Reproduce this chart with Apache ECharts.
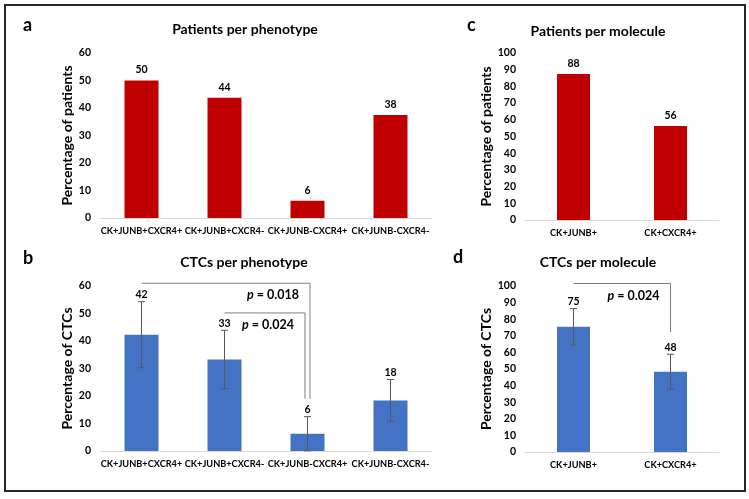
<!DOCTYPE html>
<html><head><meta charset="utf-8">
<script src="https://cdn.jsdelivr.net/npm/echarts@6/dist/echarts.min.js"></script>
<style>html,body{margin:0;padding:0;background:#fff}#c{width:749px;height:499px}</style>
</head><body><div id="c"></div>
<script>
// ---- data ----
const phenotypes = ['CK+JUNB+CXCR4+', 'CK+JUNB+CXCR4-', 'CK+JUNB-CXCR4+', 'CK+JUNB-CXCR4-'];
const molecules = ['CK+JUNB+', 'CK+CXCR4+'];
const patientsPerPhenotype = [50, 43.75, 6.25, 37.5];
const ctcsPerPhenotype = [42.3, 33.3, 6.3, 18.4];
const ctcsPerPhenotypeErr = [12, 10.6, 6.2, 7.6];
const patientsPerMolecule = [87.5, 56.25];
const ctcsPerMolecule = [75.4, 48.4];
const ctcsPerMoleculeErr = [11, 10.5];
const phenotypeAxisMax = 60;
const moleculeAxisMax = 100;
const tickStep = 10;
// significance brackets: from category, to category, bracket level, leg end level, p value
const bracketsPhenotype = [
  {from: 0, to: 2.03, level: 61, end: 19, p: '0.018'},
  {from: 1, to: 1.97, level: 50.2, end: 19, p: '0.024'}
];
const bracketsMolecule = [
  {from: 0, to: 1, level: 101.5, end: 72.3, p: '0.024'}
];

// ---- style ----
const FONT = 'Lato';
const RED = '#C00000';
const BLUE = '#4472C4';

function catAxis(gi, cats) {
  return {
    type: 'category', gridIndex: gi, data: cats,
    axisLine: {lineStyle: {color: '#D9D9D9', width: 1}},
    axisTick: {show: false},
    axisLabel: {fontFamily: FONT, fontWeight: 'bold', fontSize: 9.2, color: '#000', margin: 9, interval: 0}
  };
}
function hiddenValAxis(gi, n) {
  return {type: 'value', gridIndex: gi, min: -0.5, max: n - 0.5, show: false};
}
function valAxis(gi, max, name, gap) {
  return {
    type: 'value', gridIndex: gi, min: 0, max: max, interval: tickStep,
    axisLine: {show: false}, axisTick: {show: false}, splitLine: {show: false},
    axisLabel: {fontFamily: FONT, fontWeight: 'bold', fontSize: 10.5, color: '#000', margin: 9},
    name: name, nameLocation: 'middle', nameGap: gap,
    nameTextStyle: {fontFamily: FONT, fontWeight: 'bold', fontSize: 14, color: '#000'}
  };
}
function barSeries(ai, values, color, width, withLabel) {
  return {
    type: 'bar', xAxisIndex: ai, yAxisIndex: ai, data: values, barWidth: width,
    itemStyle: {color: color},
    label: withLabel ? {show: true, position: 'top', distance: 5, fontFamily: FONT, fontWeight: 'bold', fontSize: 10.5, color: '#000',
      formatter: p => Math.round(p.value)} : {show: false},
    silent: true
  };
}
function errorSeries(ai, values, errs) {
  return {
    type: 'custom', xAxisIndex: ai, yAxisIndex: ai, silent: true, z: 5,
    data: values.map((v, i) => [i, Math.max(0, v - errs[i]), v + errs[i], Math.round(v)]),
    renderItem: function (params, api) {
      const i = api.value(0);
      const lo = api.coord([i, api.value(1)]);
      const hi = api.coord([i, api.value(2)]);
      const c = 3.5;
      const st = {stroke: '#595959', lineWidth: 1};
      return {type: 'group', children: [
        {type: 'line', shape: {x1: lo[0], y1: lo[1], x2: hi[0], y2: hi[1]}, style: st},
        {type: 'line', shape: {x1: hi[0] - c, y1: hi[1], x2: hi[0] + c, y2: hi[1]}, style: st},
        {type: 'line', shape: {x1: lo[0] - c, y1: lo[1], x2: lo[0] + c, y2: lo[1]}, style: st},
        {type: 'text', style: {text: String(api.value(3)), x: hi[0], y: hi[1] - 7, align: 'center', verticalAlign: 'middle',
          fontFamily: FONT, fontWeight: 'bold', fontSize: 10.5, fill: '#000'}}
      ]};
    }
  };
}
function bracketSeries(xai, yai, brackets) {
  return {
    type: 'custom', xAxisIndex: xai, yAxisIndex: yai, silent: true, z: 6,
    data: brackets.map(b => [b.from, b.level, b.to, b.end]),
    renderItem: function (params, api) {
      const b = brackets[params.dataIndex];
      const a = api.coord([api.value(0), api.value(1)]);
      const t = api.coord([api.value(2), api.value(1)]);
      const e = api.coord([api.value(2), api.value(3)]);
      return {type: 'group', children: [
        {type: 'polyline', shape: {points: [a, t, e]}, style: {stroke: '#7F7F7F', lineWidth: 1, fill: null}},
        {type: 'text', style: {
          text: '{i|p} = ' + b.p, x: t[0] - 11, y: t[1] + 12, align: 'right', verticalAlign: 'middle',
          fontFamily: FONT, fontWeight: 'bold', fontSize: 12.5, fill: '#000',
          rich: {i: {fontFamily: FONT, fontStyle: 'italic', fontWeight: 'bold', fontSize: 12.5, fill: '#000'}}
        }}
      ]};
    }
  };
}

const titleStyle = {fontFamily: FONT, fontWeight: 'bold', fontSize: 14, color: '#000'};
const letterStyle = {fontFamily: FONT, fontWeight: 'bold', fontSize: 18, color: '#000'};

const option = {
  animation: false,
  backgroundColor: '#fff',
  title: [
    {text: 'Patients per phenotype', left: 245, top: 22, textAlign: 'center', padding: 0, textStyle: titleStyle},
    {text: 'CTCs per phenotype', left: 244, top: 255, textAlign: 'center', padding: 0, textStyle: titleStyle},
    {text: 'Patients per molecule', left: 598, top: 24, textAlign: 'center', padding: 0, textStyle: titleStyle},
    {text: 'CTCs per molecule', left: 598, top: 255, textAlign: 'center', padding: 0, textStyle: titleStyle},
    {text: 'a', left: 23, top: 16, padding: 0, textStyle: letterStyle},
    {text: 'b', left: 23, top: 249, padding: 0, textStyle: letterStyle},
    {text: 'c', left: 467, top: 16, padding: 0, textStyle: letterStyle},
    {text: 'd', left: 453, top: 248, padding: 0, textStyle: letterStyle}
  ],
  graphic: [
    {type: 'rect', shape: {x: 5, y: 5, width: 740, height: 486}, style: {fill: null, stroke: '#262626', lineWidth: 2}, silent: true}
  ],
  grid: [
    {left: 100, top: 53, width: 332, height: 165},
    {left: 100, top: 286, width: 332, height: 165},
    {left: 525, top: 53, width: 194, height: 167},
    {left: 525, top: 286, width: 194, height: 166}
  ],
  xAxis: [
    catAxis(0, phenotypes), catAxis(1, phenotypes), catAxis(2, molecules), catAxis(3, molecules),
    hiddenValAxis(1, phenotypes.length), hiddenValAxis(3, molecules.length)
  ],
  yAxis: [
    valAxis(0, phenotypeAxisMax, 'Percentage of patients', 25),
    valAxis(1, phenotypeAxisMax, 'Percentage of CTCs', 25),
    valAxis(2, moleculeAxisMax, 'Percentage of patients', 29),
    valAxis(3, moleculeAxisMax, 'Percentage of CTCs', 29)
  ],
  series: [
    barSeries(0, patientsPerPhenotype, RED, 34, true),
    barSeries(1, ctcsPerPhenotype, BLUE, 34, false),
    barSeries(2, patientsPerMolecule, RED, 33, true),
    barSeries(3, ctcsPerMolecule, BLUE, 33, false),
    errorSeries(1, ctcsPerPhenotype, ctcsPerPhenotypeErr),
    errorSeries(3, ctcsPerMolecule, ctcsPerMoleculeErr),
    bracketSeries(4, 1, bracketsPhenotype),
    bracketSeries(5, 3, bracketsMolecule)
  ]
};
const chart = echarts.init(document.getElementById('c'), null, {renderer: 'canvas'});
chart.setOption(option);
</script></body></html>
